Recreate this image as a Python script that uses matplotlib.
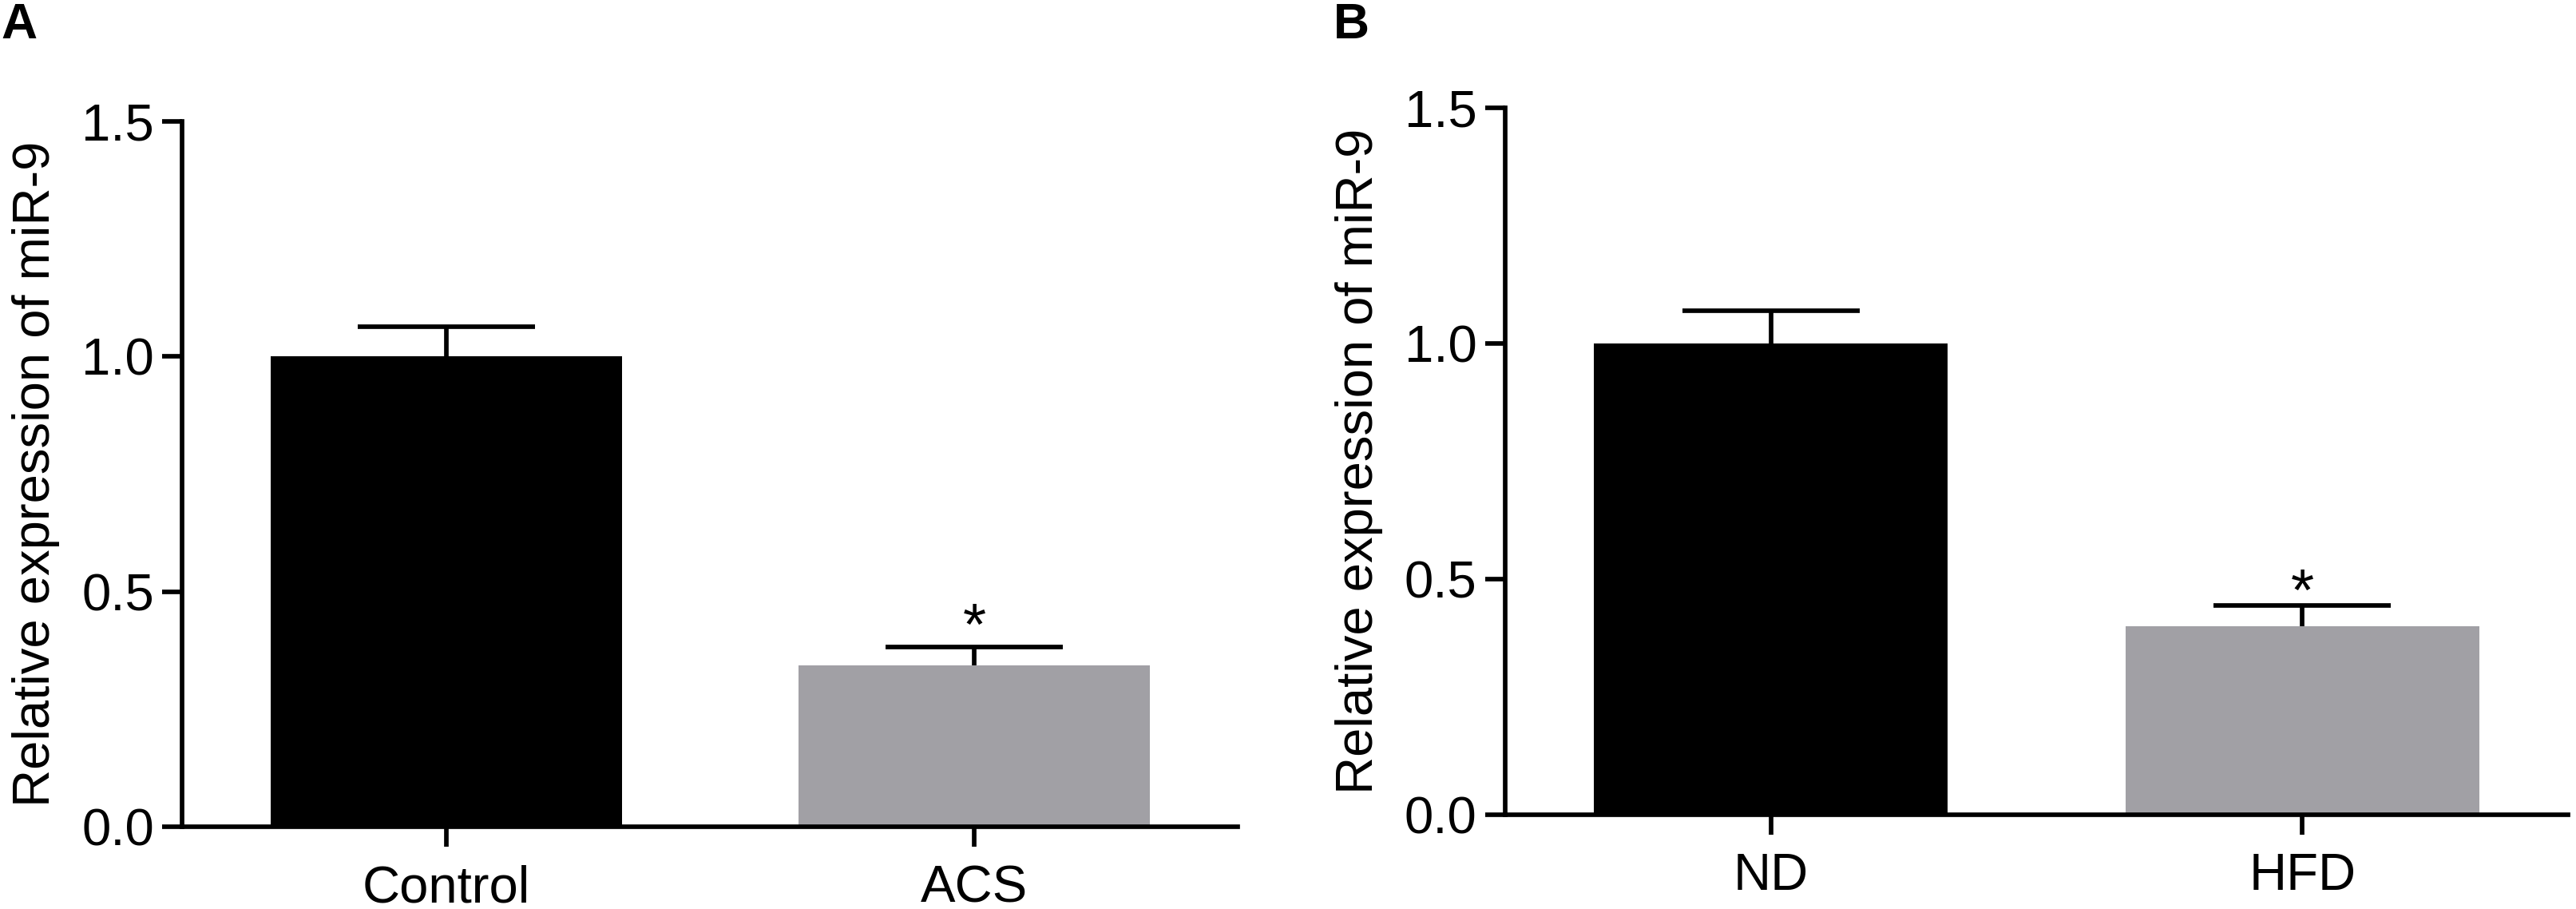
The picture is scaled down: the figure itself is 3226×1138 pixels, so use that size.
import matplotlib
matplotlib.use("Agg")
import matplotlib.pyplot as plt
import numpy as np

plt.rcParams["font.family"] = ["Liberation Sans", "DejaVu Sans"]

# Panel A: Control vs ACS
groups_a = ["Control", "ACS"]
means_a = [1.0, 0.343]
errs_a = [0.064, 0.040]

# Panel B: ND vs HFD
groups_b = ["ND", "HFD"]
means_b = [1.0, 0.40]
errs_b = [0.069, 0.044]

signif = ["", "*"]
bar_colors = ["#000000", "#a1a0a5"]
yticks = [0.0, 0.5, 1.0, 1.5]
ylabel = "Relative expression of miR-9"

FS = 47
LW = 4.1


def draw_panel(ax, groups, means, errs, star_gap):
    x = np.arange(len(groups))
    ax.bar(x, means, width=0.666, color=bar_colors, zorder=2)
    eb = ax.errorbar(x, means, yerr=[np.zeros(len(errs)), errs], fmt="none",
                     ecolor="black", elinewidth=LW, capsize=80, capthick=LW,
                     zorder=3)
    # only the upper cap is shown
    eb[1][0].set_visible(False)
    for xi, m, e, s in zip(x, means, errs, signif):
        if s:
            ax.text(xi, m + e + star_gap, s, ha="center", va="baseline",
                    fontsize=54)
    ax.set_xlim(-0.5, 1.5)
    ax.set_ylim(0, 1.5)
    ax.set_xticks(x)
    ax.set_xticklabels(groups)
    ax.set_yticks(yticks)
    ax.set_yticklabels([f"{t:.1f}" for t in yticks])
    ax.set_ylabel(ylabel, fontsize=FS, labelpad=19.5)
    for sp in ["top", "right"]:
        ax.spines[sp].set_visible(False)
    for sp in ["left", "bottom"]:
        ax.spines[sp].set_linewidth(LW)
    ax.tick_params(axis="both", direction="out", length=18, width=LW,
                   labelsize=FS)
    ax.tick_params(axis="x", pad=16)
    ax.tick_params(axis="y", pad=7.5)


fig = plt.figure(figsize=(32.26, 11.38), dpi=100)

ax_a = fig.add_axes([0.07083, 0.09051, 0.40979, 0.77592])
draw_panel(ax_a, groups_a, means_a, errs_a, 0.004)

ax_b = fig.add_axes([0.58424, 0.10369, 0.41267, 0.77768])
draw_panel(ax_b, groups_b, means_b, errs_b, -0.010)

fig.text(0.0003, 0.998, "A", fontsize=45, fontweight="bold", va="top")
fig.text(0.5177, 0.998, "B", fontsize=45, fontweight="bold", va="top")

fig.savefig("out.png", dpi=100)
plt.close(fig)
